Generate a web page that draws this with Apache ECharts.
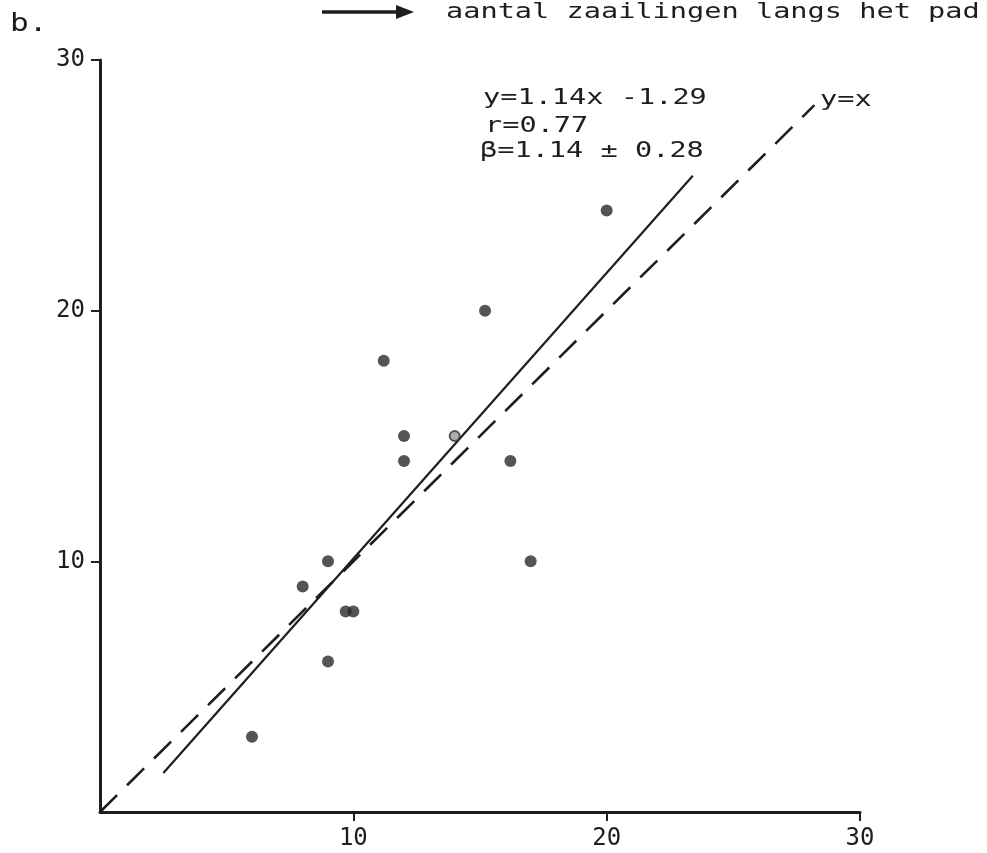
<!DOCTYPE html>
<html>
<head>
<meta charset="utf-8">
<script src="https://cdn.jsdelivr.net/npm/echarts@6/dist/echarts.min.js"></script>
<style>
  html, body { margin: 0; padding: 0; background: #fff; }
  #chart { width: 987px; height: 853px; }
</style>
</head>
<body>
<div id="chart"></div>
<script>
// Seedling counts: x and y coordinates of each observation
const xValues = [6, 8, 9, 9, 9.7, 10, 11.2, 12, 12, 15.2, 16.2, 17, 20];
const yValues = [3, 9, 10, 6, 8, 8, 18, 15, 14, 20, 14, 10, 24];
// observation drawn as an open ring on the fitted line
const ringPoint = [14, 15];

// Fitted regression y = a*x + b and its drawn extent
const slope = 1.14;
const intercept = -1.29;
const fitRange = [2.5, 23.4];
// Reference line y = x and its drawn extent
const identityRange = [0, 28.2];

const tickValues = [10, 20, 30];

const annotationLines = ['y=1.14x -1.29', 'r=0.77', 'β=1.14 ± 0.28'];
const headerText = 'aantal zaailingen langs het pad';
const panelLabel = 'b.';

const ink = '#1e1e1e';
const monoFont = '"DejaVu Sans Mono", "Liberation Mono", monospace';

const scatterData = xValues.map((x, i) => [x, yValues[i]]);
const fitData = fitRange.map(x => [x, slope * x + intercept]);
const identityData = identityRange.map(x => [x, x]);

const chart = echarts.init(document.getElementById('chart'), null, { renderer: 'canvas' });

// typewriter-style text: monospace face widened horizontally
function wideText(x, y, text, size, stretch) {
  return {
    type: 'text',
    x: x,
    y: y,
    scaleX: stretch,
    style: {
      text: text,
      fontFamily: monoFont,
      fontSize: size,
      fill: ink,
      textAlign: 'left',
      textVerticalAlign: 'middle'
    },
    silent: true
  };
}

const option = {
  backgroundColor: '#ffffff',
  animation: false,
  grid: { left: 100, right: 127, top: 60, bottom: 41, containLabel: false },
  xAxis: {
    type: 'value',
    min: 0, max: 30, interval: 10,
    splitLine: { show: false },
    axisLine: { show: true, onZero: false, lineStyle: { color: ink, width: 3 } },
    axisTick: { show: true, length: 9, inside: false, customValues: tickValues, lineStyle: { color: ink, width: 2 } },
    axisLabel: { show: true, margin: 15, customValues: tickValues, color: ink, fontFamily: monoFont, fontSize: 24 }
  },
  yAxis: {
    type: 'value',
    min: 0, max: 30, interval: 10,
    splitLine: { show: false },
    axisLine: { show: true, onZero: false, lineStyle: { color: ink, width: 3 } },
    axisTick: { show: true, length: 9, inside: false, customValues: tickValues, lineStyle: { color: ink, width: 2 } },
    axisLabel: { show: true, margin: 15, customValues: tickValues, color: ink, fontFamily: monoFont, fontSize: 24 }
  },
  series: [
    {
      name: 'identity',
      type: 'line',
      data: identityData,
      symbol: 'none',
      lineStyle: { color: ink, width: 2.6, type: [24, 14] },
      z: 2
    },
    {
      name: 'fit',
      type: 'line',
      data: fitData,
      symbol: 'none',
      lineStyle: { color: ink, width: 2.2, type: 'solid' },
      z: 3
    },
    {
      name: 'observations',
      type: 'scatter',
      data: scatterData,
      symbol: 'circle',
      symbolSize: 12,
      itemStyle: { color: '#2b2b2b' },
      z: 4
    },
    {
      name: 'ring',
      type: 'scatter',
      data: [ringPoint],
      symbol: 'circle',
      symbolSize: 10,
      itemStyle: { color: '#9a9a9a', borderColor: '#333', borderWidth: 2 },
      z: 5
    }
  ],
  graphic: [
    wideText(10, 25, panelLabel, 24, 1.3),
    // arrow in the header
    {
      type: 'line',
      shape: { x1: 322, y1: 12, x2: 400, y2: 12 },
      style: { stroke: ink, lineWidth: 3.5 },
      silent: true
    },
    {
      type: 'polygon',
      shape: { points: [[396, 5], [414, 12], [396, 19]] },
      style: { fill: ink },
      silent: true
    },
    wideText(446, 12, headerText, 22, 1.3),
    wideText(483, 98, annotationLines[0], 22, 1.3),
    wideText(485, 126, annotationLines[1], 22, 1.3),
    wideText(480, 151, annotationLines[2], 22, 1.3),
    wideText(820, 100, 'y=x', 22, 1.3)
  ]
};

chart.setOption(option);
</script>
</body>
</html>
